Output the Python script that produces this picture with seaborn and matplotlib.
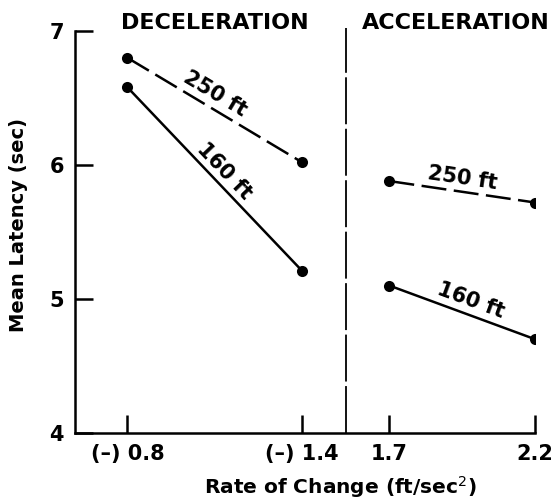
import numpy as np
import pandas as pd
import matplotlib
matplotlib.use("Agg")
import matplotlib.pyplot as plt
import seaborn as sns

# Mean latency by rate of speed change, for two headways
phases = ["DECELERATION", "DECELERATION", "ACCELERATION", "ACCELERATION"]
rates = [0.8, 1.4, 1.7, 2.2]
rate_labels = ["(–) 0.8", "(–) 1.4", "1.7", "2.2"]
latency_250 = [6.80, 6.02, 5.88, 5.72]
latency_160 = [6.58, 5.21, 5.10, 4.70]
distances = ["250 ft", "160 ft"]
y_ticks = [4, 5, 6, 7]
divider = 1.55

rows = []
for dist, vals in zip(distances, [latency_250, latency_160]):
    for ph, r, v in zip(phases, rates, vals):
        rows.append({"phase": ph, "rate": r, "latency": v, "distance": dist})
df = pd.DataFrame(rows)

sns.set_style("ticks")
plt.rcParams["font.family"] = ["DejaVu Sans"]
plt.rcParams["text.color"] = "black"
plt.rcParams["axes.labelcolor"] = "black"

fig = plt.figure(figsize=(5.57, 5.03), dpi=100)
ax = fig.add_axes([75 / 557, 70 / 503, 460 / 557, 402 / 503])

sns.lineplot(
    data=df, x="rate", y="latency", style="distance", units="phase",
    estimator=None, color="black", linewidth=1.8,
    dashes={"250 ft": (10, 3), "160 ft": ""},
    markers={"250 ft": "o", "160 ft": "o"}, markersize=8,
    markeredgecolor="black", markeredgewidth=0, legend=False, ax=ax,
)

ax.set_xlim(0.62, 2.2)
ax.set_ylim(4, 7)

# phase divider
ax.plot([divider, divider], [4, 7.02], color="black", lw=1.3,
        dashes=(26, 2.5), clip_on=False)

ax.set_xticks(rates)
ax.set_xticklabels(rate_labels)
ax.set_yticks(y_ticks)
ax.set_yticklabels([str(t) for t in y_ticks])
ax.tick_params(direction="in", length=13, width=1.8, pad=8,
               labelsize=15, colors="black")
for lab in ax.get_xticklabels() + ax.get_yticklabels():
    lab.set_fontweight("bold")

sns.despine(ax=ax)
for s in ("left", "bottom"):
    ax.spines[s].set_linewidth(1.8)
    ax.spines[s].set_color("black")

ax.set_ylabel("Mean Latency (sec)", fontsize=14, fontweight="bold")
ax.set_xlabel("Rate of Change (ft/sec$^{2}$)", fontsize=14.5, fontweight="bold")
ax.yaxis.set_label_coords(-0.122, 0.517)
ax.xaxis.set_label_coords(0.576, -0.135)
ax.xaxis.label.set_va("center")
ax.yaxis.label.set_va("center")

# phase headers, centred over each pair of rates
header_shift = {"DECELERATION": 0, "ACCELERATION": -5}
for ph in ["DECELERATION", "ACCELERATION"]:
    sub = df[df["phase"] == ph]
    ax.annotate(ph, xy=(sub["rate"].mean(), 7.06), xytext=(header_shift[ph], 0),
                textcoords="offset points", ha="center", va="center",
                fontsize=16, fontweight="bold", annotation_clip=False)

# labels along each segment
offsets = {
    ("DECELERATION", "250 ft"): (0, 11.5),
    ("DECELERATION", "160 ft"): (7, 6),
    ("ACCELERATION", "250 ft"): (0, 10),
    ("ACCELERATION", "160 ft"): (6, 8.5),
}
for (ph, dist), off in offsets.items():
    sub = df[(df["phase"] == ph) & (df["distance"] == dist)].sort_values("rate")
    x0, x1 = sub["rate"].values
    y0, y1 = sub["latency"].values
    p0 = ax.transData.transform((x0, y0))
    p1 = ax.transData.transform((x1, y1))
    ang = np.degrees(np.arctan2(p1[1] - p0[1], p1[0] - p0[0]))
    ax.annotate(dist, xy=((x0 + x1) / 2, (y0 + y1) / 2), xytext=off,
                textcoords="offset points", ha="center", va="center",
                rotation=ang, rotation_mode="anchor", fontsize=15,
                fontweight="bold")

fig.savefig("out.png", dpi=100, facecolor="white")
